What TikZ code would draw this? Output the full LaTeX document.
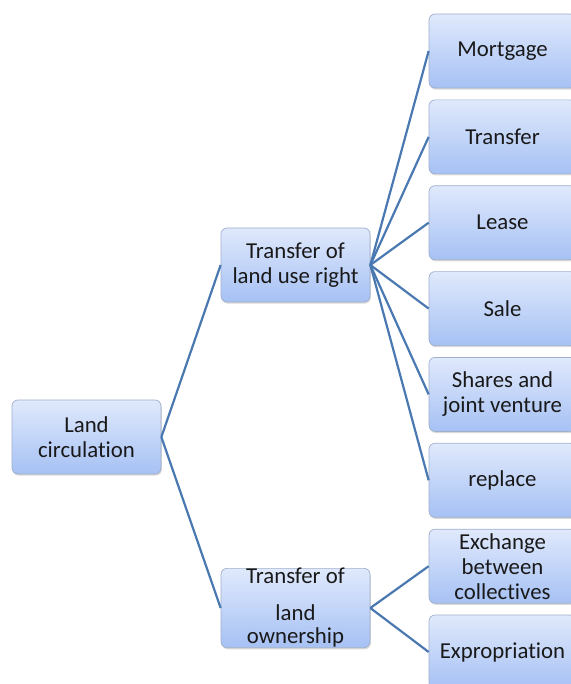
\documentclass[tikz,border=0pt]{standalone}
\usepackage{fontspec}
\setmainfont{Carlito}[Ligatures=NoCommon]
\usetikzlibrary{shadows}
\definecolor{boxtop}{HTML}{E0E9FC}
\definecolor{boxbot}{HTML}{A6C1F4}
\definecolor{boxline}{HTML}{A0AFCB}
\definecolor{linkc}{HTML}{4A78B0}
\begin{document}
\begin{tikzpicture}[x=1pt,y=-1pt,
  box/.style={rectangle, rounded corners=6pt, minimum width=149pt, minimum height=74pt,
    inner sep=0pt, top color=boxtop, bottom color=boxbot, draw=boxline, line width=0.7pt,
    drop shadow={opacity=0.3, shadow xshift=0.8pt, shadow yshift=-1.6pt},
    align=center, text=black!90, font=\fontsize{22.8}{25}\selectfont},
  leaf/.style={box, minimum width=147pt},
  link/.style={draw=linkc, line width=2.2pt}]
\useasboundingbox (0,0) rectangle (570,684);
\node[box] (root) at (86.5,437) {Land\\circulation};
\node[box] (use) at (295.5,265) {Transfer of\\land use right};
\node[box] (own) at (295.5,608) {Transfer of\\[12pt]land\\[-2pt]ownership};
\node[leaf] (mort) at (502.5,51) {Mortgage};
\node[leaf] (trans) at (502.5,136.9) {Transfer};
\node[leaf] (lease) at (502.5,222.7) {Lease};
\node[leaf] (sale) at (502.5,308.6) {Sale};
\node[leaf] (shares) at (502.5,394.4) {Shares and\\joint venture};
\node[leaf] (repl) at (502.5,480.3) {replace};
\node[leaf] (exch) at (502.5,566.2) {Exchange\\between\\collectives};
\node[leaf] (expr) at (502.5,652) {Expropriation};
\draw[link] (root.east) -- (use.west);
\draw[link] (root.east) -- (own.west);
\foreach \c in {mort,trans,lease,sale,shares,repl}
  \draw[link] (use.east) -- (\c.west);
\draw[link] (own.east) -- (exch.west);
\draw[link] (own.east) -- (expr.west);
\end{tikzpicture}
\end{document}
